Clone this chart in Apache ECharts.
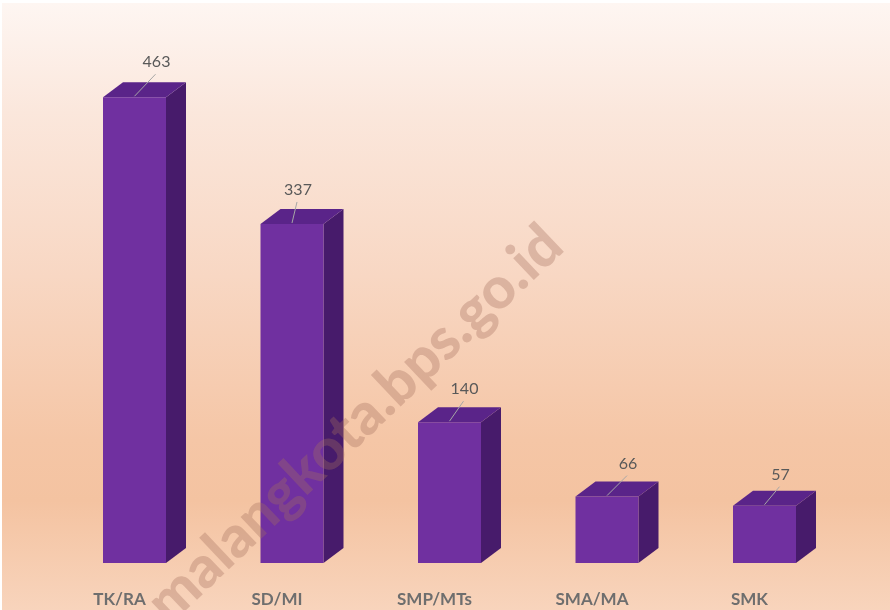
<!DOCTYPE html>
<html>
<head>
<meta charset="utf-8">
<script src="https://cdn.jsdelivr.net/npm/echarts@6/dist/echarts.min.js"></script>
<style>
  html, body { margin: 0; padding: 0; background: #ffffff; }
  #bg {
    position: absolute; left: 2px; top: 3px; width: 888px; height: 607px;
    background: linear-gradient(to bottom, #fef6f2 0%, #fbe7dc 18%, #f8d7c3 45%, #f5c6a6 72%, #f4c3a1 82%, #f8d4bc 100%);
  }
  #chart { position: absolute; left: 0; top: 0; width: 890px; height: 610px; }
</style>
</head>
<body>
<div id="bg"></div>
<div id="chart"></div>
<script>
const categories = ['TK/RA', 'SD/MI', 'SMP/MTs', 'SMA/MA', 'SMK'];
const values = [463, 337, 140, 66, 57];

// hand-placed data label offsets (dx, dy of the leader line end from front-top centre)
const labelNudge = [[21, -23], [5, -22], [14, -21], [20, -21], [15, -19]];

const FRONT = '#7030a0';
const TOP = '#5a2489';
const SIDE = '#471b6b';
const DEPTH_X = 20;
const DEPTH_Y = -15;

const chart = echarts.init(document.getElementById('chart'));

function renderBar(params, api) {
  const idx = api.value(0);
  const base = api.coord([idx, 0]);
  const top = api.coord([idx, api.value(1)]);
  const w = api.size([1, 0])[0] * 0.4;
  const x0 = base[0] - w / 2;
  const x1 = base[0] + w / 2;
  const yb = base[1];
  const yt = top[1];
  const nudge = labelNudge[params.dataIndex];
  const lx = base[0] + nudge[0];
  const ly = yt + nudge[1];
  return {
    type: 'group',
    children: [
      {
        type: 'polygon',
        shape: {points: [[x1, yb], [x1 + DEPTH_X, yb + DEPTH_Y], [x1 + DEPTH_X, yt + DEPTH_Y], [x1, yt]]},
        style: {fill: SIDE}
      },
      {
        type: 'polygon',
        shape: {points: [[x0, yt], [x0 + DEPTH_X, yt + DEPTH_Y], [x1 + DEPTH_X, yt + DEPTH_Y], [x1, yt]]},
        style: {fill: TOP}
      },
      {
        type: 'rect',
        shape: {x: x0, y: yt, width: w, height: yb - yt},
        style: {fill: FRONT}
      },
      {
        type: 'line',
        shape: {x1: base[0], y1: yt - 1, x2: lx, y2: ly},
        style: {stroke: '#a6a6a6', lineWidth: 1}
      },
      {
        type: 'text',
        x: lx + 1,
        y: ly - 12,
        style: {
          text: String(api.value(1)),
          align: 'center',
          verticalAlign: 'middle',
          fill: '#595959',
          fontSize: 16,
          fontFamily: 'Lato'
        }
      }
    ]
  };
}

chart.setOption({
  animation: false,
  grid: {left: 55.75, right: 46.75, top: 60, bottom: 47},
  xAxis: {
    type: 'category',
    data: categories,
    axisLine: {show: false},
    axisTick: {show: false},
    axisLabel: {
      margin: 28,
      padding: [0, 30, 0, 0],
      color: '#6e6e6e',
      fontSize: 17,
      fontWeight: 'bold',
      fontFamily: 'Lato'
    }
  },
  yAxis: {
    type: 'value',
    min: 0,
    max: 500,
    show: false,
    splitLine: {show: false}
  },
  series: [
    {
      type: 'custom',
      renderItem: renderBar,
      data: values.map((v, i) => [i, v]),
      encode: {x: 0, y: 1}
    }
  ],
  graphic: [
    {
      type: 'text',
      x: 355,
      y: 424,
      rotation: 43.5 * Math.PI / 180,
      z: 100,
      style: {
        text: 'malangkota.bps.go.id',
        align: 'center',
        verticalAlign: 'middle',
        fill: 'rgba(165, 110, 95, 0.34)',
        fontSize: 58,
        fontWeight: 900,
        fontFamily: 'Lato'
      }
    }
  ]
});
</script>
</body>
</html>
